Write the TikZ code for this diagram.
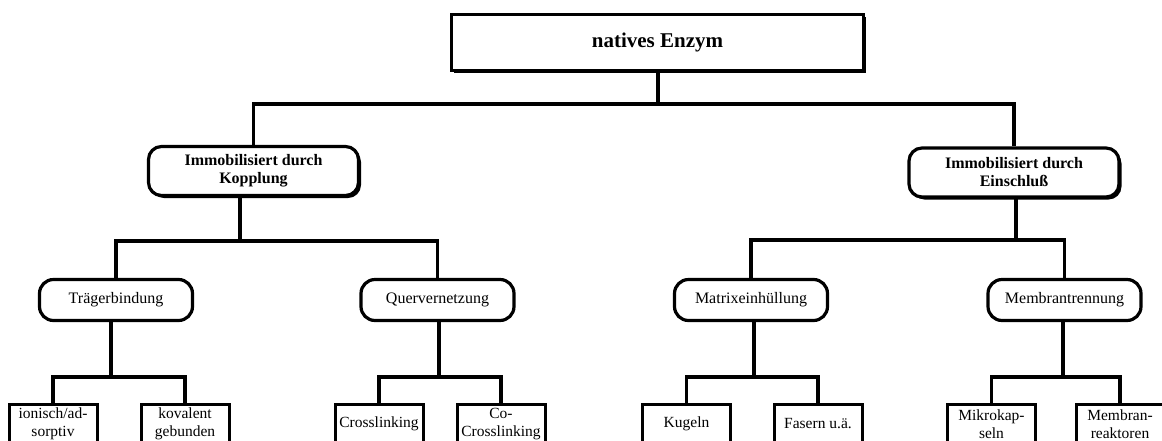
\documentclass[tikz,border=0pt]{standalone}
\usepackage{fontspec}
\setmainfont{Liberation Serif}
\usetikzlibrary{shadows}

\tikzset{
  conn/.style={line width=3.2pt},
  topbox/.style={draw,fill=white,line width=3.8pt,minimum width=412pt,minimum height=56pt,
    font=\fontsize{21}{25}\selectfont\bfseries,
    drop shadow={shadow xshift=2.5pt,shadow yshift=-2.5pt,opacity=1,fill=black}},
  mainbox/.style={draw,fill=white,line width=3.2pt,rounded corners=13pt,minimum width=210pt,
    minimum height=49pt,align=center,font=\fontsize{16}{18}\selectfont\bfseries,
    drop shadow={shadow xshift=2.5pt,shadow yshift=-2.5pt,opacity=1,fill=black}},
  subbox/.style={draw,line width=3.2pt,rounded corners=14pt,minimum width=153pt,
    minimum height=41pt,font=\fontsize{16}{18}\selectfont},
  leafbox/.style={draw,line width=3pt,minimum width=88pt,minimum height=40pt,
    inner sep=1pt,align=center,font=\fontsize{15.5}{18}\selectfont}
}

\begin{document}
\begin{tikzpicture}[x=1pt,y=-1pt]
  \useasboundingbox (0,0) rectangle (1162,440);

  % junctions of the lines
  \coordinate (j0) at (658,104);
  \coordinate (j1) at (240,241);
  \coordinate (j2) at (1016,240);
  \coordinate (ja) at (111,377);
  \coordinate (jb) at (439,377);
  \coordinate (jc) at (754,377);
  \coordinate (jd) at (1063,377);

  \node[topbox] (enzym) at (657.5,42.5) {natives Enzym};
  \node[mainbox] (kopp) at (253.5,171) {Immobilisiert durch\\Kopplung};
  \node[mainbox] (einschl) at (1014,172.5) {Immobilisiert durch\\Einschluß};

  \foreach \name/\x/\txt in {traeger/116/Trägerbindung, querv/437.5/Quervernetzung,
      matrix/751/Matrixeinhüllung, membr/1064.5/Membrantrennung}
    \node[subbox] (\name) at (\x,300) {\txt};

  \foreach \name/\x/\txt in {ionisch/53/{ionisch/ad-\\sorptiv}, kovalent/185/{kovalent\\gebunden},
      cross/379/Crosslinking, cocross/501/{Co-\\Crosslinking},
      kugeln/686.5/Kugeln, fasern/818/{Fasern u.ä.},
      mikro/991.5/{Mikrokap-\\seln}, reakt/1120/{Membran-\\reaktoren}}
    \node[leafbox] (\name) at (\x,424) {\txt};

  \draw[conn] (enzym.south -| j0) -- (j0);
  \draw[conn] (kopp.north) |- (j0) -| (einschl.north);

  \draw[conn] (kopp.south -| j1) -- (j1);
  \draw[conn] (traeger.north) |- (j1) -| (querv.north);
  \draw[conn] (einschl.south -| j2) -- (j2);
  \draw[conn] (matrix.north) |- (j2) -| (membr.north);

  \foreach \up/\j/\a/\b in {traeger/ja/ionisch/kovalent, querv/jb/cross/cocross,
      matrix/jc/kugeln/fasern, membr/jd/mikro/reakt}
  {
    \draw[conn] (\up.south -| \j) -- (\j);
    \draw[conn] (\a.north) |- (\j) -| (\b.north);
  }
\end{tikzpicture}
\end{document}
